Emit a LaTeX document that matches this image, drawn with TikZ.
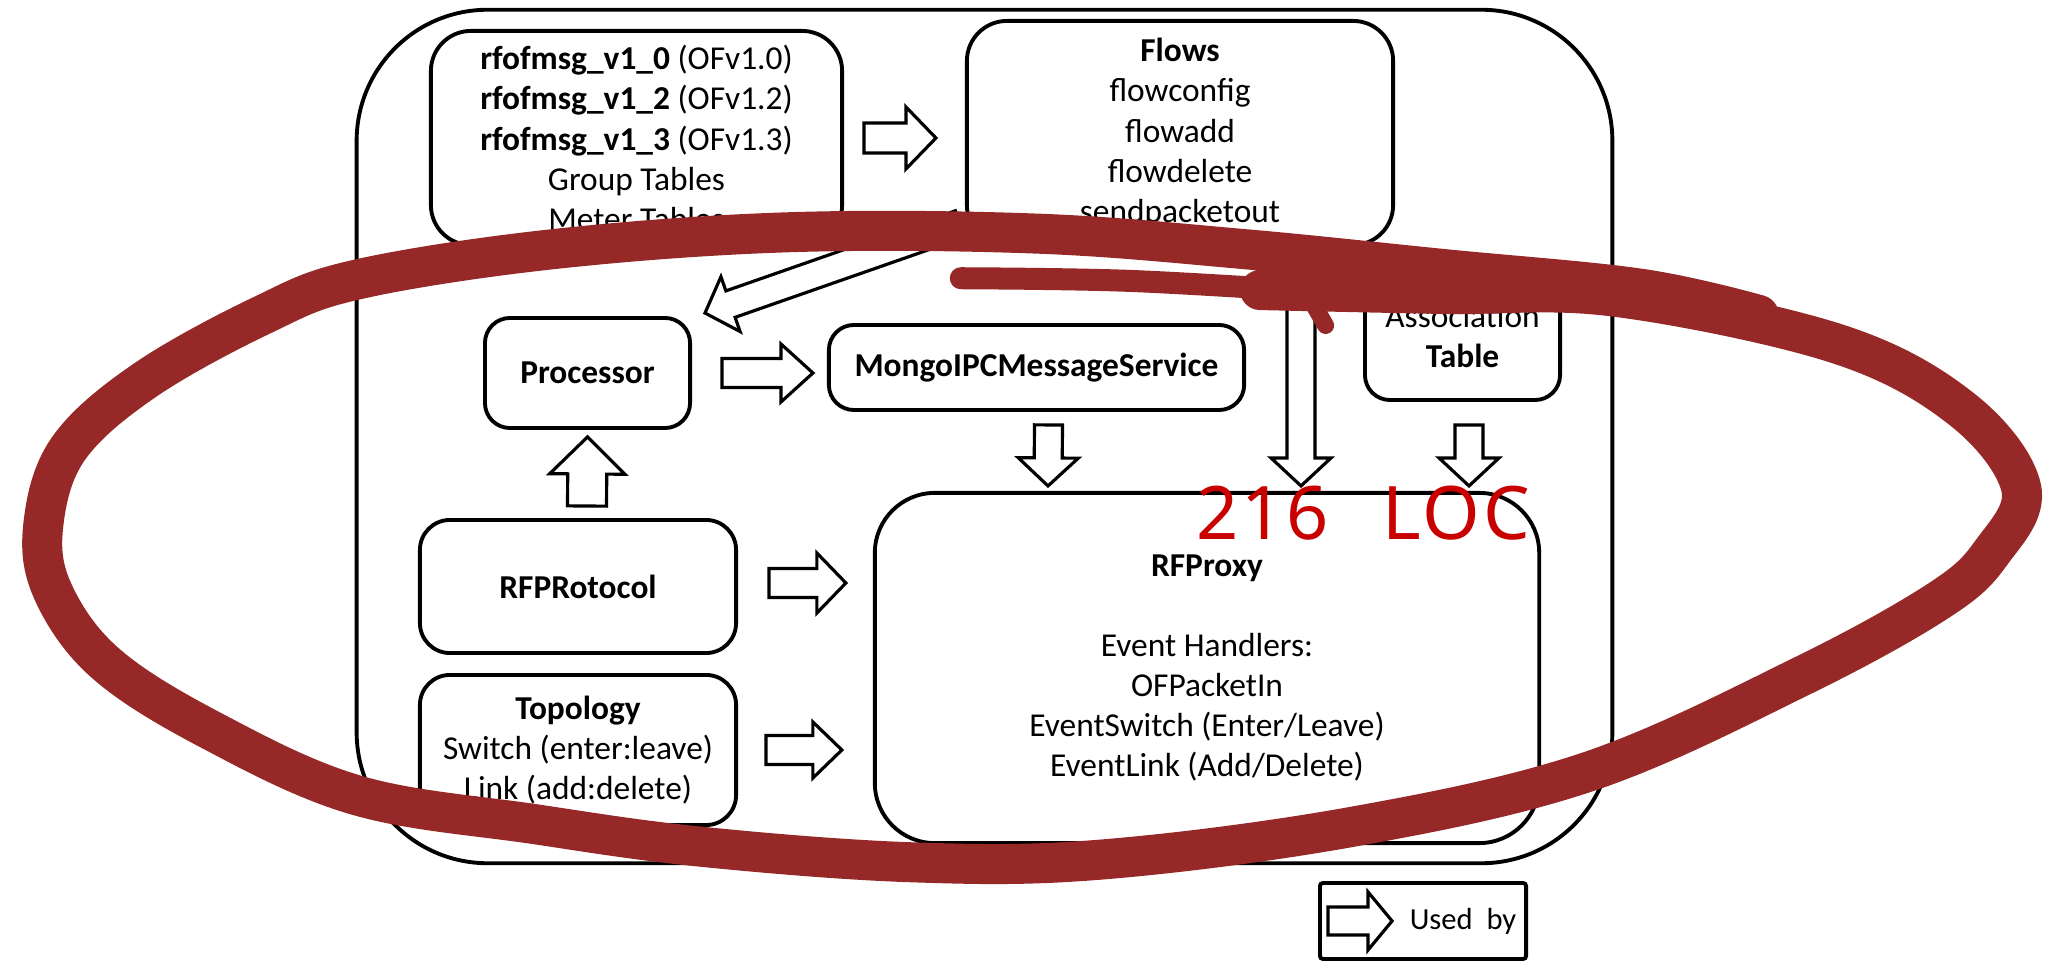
\documentclass[tikz,border=0pt]{standalone}
\usepackage{fontspec}
\setmainfont{Carlito}
\newfontfamily\handfont[LetterSpace=4]{Noto Sans}
\usetikzlibrary{calc}

\definecolor{ink}{RGB}{150,40,40}
\definecolor{penred}{RGB}{200,0,0}

% hollow block arrow from tail #1 to tip #2;
% #3 half shaft width, #4 half head width, #5 head length
\newcommand\fatarrow[5]{%
  \coordinate (fahb) at ($(#2)!#5!(#1)$);
  \draw[fat] ($(#1)!#3!90:(#2)$) -- ($(fahb)!#3!90:(#2)$) -- ($(fahb)!#4!90:(#2)$)
    -- (#2) -- ($(fahb)!#4!-90:(#2)$) -- ($(fahb)!#3!-90:(#2)$)
    -- ($(#1)!#3!-90:(#2)$) -- cycle;}

\tikzset{
  box/.style={draw, line width=1.1pt, rounded corners=#1, align=center,
    inner sep=0pt, font=\fontsize{9.5}{11.4}\selectfont},
  box/.default=0.3cm,
  fat/.style={draw, fill=white, line width=0.9pt, line join=miter},
  loop/.style={draw=ink, line cap=round, line join=round},
}

\begin{document}
\begin{tikzpicture}[x=0.01cm, y=-0.01cm]
\useasboundingbox (0,0) rectangle (2058,962);

% application container
\node[box=1.31cm, minimum width=12.55cm, minimum height=8.53cm] (app) at (984.5,436.5) {};

% component boxes
\node[box=0.4cm, minimum width=4.11cm, minimum height=2.14cm] (rfof) at (636.5,138)
  {\textbf{rfofmsg\_v1\_0} (OFv1.0)\\\textbf{rfofmsg\_v1\_2} (OFv1.2)\\\textbf{rfofmsg\_v1\_3} (OFv1.3)\\Group Tables\\Meter Tables};
\node[box=0.4cm, minimum width=4.26cm, minimum height=2.24cm] (flows) at (1180,133)
  {\textbf{Flows}\\flowconfig\\flowadd\\flowdelete\\sendpacketout};
\node[box=0.25cm, minimum width=1.95cm, minimum height=1.28cm] (assoc) at (1462.5,336)
  {Association\\\textbf{Table}};
\node[box=0.25cm, minimum width=2.05cm, minimum height=1.10cm] (proc) at (587.5,373)
  {\textbf{Processor}};
\node[box=0.25cm, minimum width=4.15cm, minimum height=0.85cm] (mongo) at (1036.5,367.5)
  {\textbf{MongoIPCMessageService}};
\node[box=0.6cm, minimum width=6.64cm, minimum height=3.50cm] (rfproxy) at (1207,668)
  {\textbf{RFProxy}\\[11.4pt]Event Handlers:\\OFPacketIn\\EventSwitch (Enter/Leave)\\EventLink (Add/Delete)};
\node[box=0.3cm, minimum width=3.16cm, minimum height=1.33cm] (rfprot) at (578,586.5)
  {\textbf{RFPRotocol}};
\node[box=0.3cm, minimum width=3.16cm, minimum height=1.50cm] (topo) at (578,750)
  {\textbf{Topology}\\Switch (enter:leave)\\Link (add:delete)};

% legend
\node[box=0.03cm, minimum width=2.06cm, minimum height=0.76cm] (legend) at (1423,921) {};
\node[font=\fontsize{8.7}{10}\selectfont, inner sep=0pt] (usedby) at (1463,921) {Used~~by};

% "used by" connectors
\coordinate (a1) at ($(rfof.east)+(20,0)$);
\coordinate (b1) at ($(flows.west)+(-29,5)$);
\fatarrow{a1}{b1}{0.15cm}{0.31cm}{0.30cm}

\coordinate (a2) at ($(flows.south west)+(-5,-23)$);
\coordinate (b2) at ($(proc.north east)+(13,-3)$);
\fatarrow{a2}{b2}{0.14cm}{0.29cm}{0.27cm}

\coordinate (a3) at ($(proc.east)+(30,0)$);
\coordinate (b3) at ($(mongo.west)+(-14,5.5)$);
\fatarrow{a3}{b3}{0.145cm}{0.29cm}{0.32cm}

\coordinate (a4) at ($(mongo.south)+(12,13)$);
\coordinate (b4) at ($(rfproxy.north)+(-159,-5)$);
\fatarrow{a4}{b4}{0.14cm}{0.30cm}{0.28cm}

\coordinate (a5) at ($(flows.south)+(121,3)$);
\coordinate (b5) at ($(rfproxy.north)+(94,-5)$);
\fatarrow{a5}{b5}{0.14cm}{0.30cm}{0.28cm}

\coordinate (a6) at ($(assoc.south)+(6.5,23)$);
\coordinate (b6) at ($(rfproxy.north)+(262,-5)$);
\fatarrow{a6}{b6}{0.14cm}{0.30cm}{0.28cm}

\coordinate (a7) at ($(rfprot.north)+(9,-12)$);
\coordinate (b7) at ($(proc.south)+(0,7)$);
\fatarrow{a7}{b7}{0.195cm}{0.375cm}{0.37cm}

\coordinate (a8) at ($(rfprot.east)+(31,-3.5)$);
\coordinate (b8) at ($(rfproxy.west)+(-27,-85)$);
\fatarrow{a8}{b8}{0.145cm}{0.30cm}{0.29cm}

\coordinate (a9) at ($(topo.east)+(28,0)$);
\coordinate (b9) at ($(rfproxy.west)+(-31,82)$);
\fatarrow{a9}{b9}{0.145cm}{0.28cm}{0.29cm}

\coordinate (a10) at ($(legend.west)+(10,0)$);
\coordinate (b10) at ($(usedby.west)+(-17,0)$);
\fatarrow{a10}{b10}{0.14cm}{0.29cm}{0.24cm}

% hand-drawn loop over the diagram
\begin{scope}[scale=1.3125]
\draw[loop, line width=0.22cm] plot[smooth, tension=0.6] coordinates
  {(732,212) (860,214) (1000,222)};
\draw[loop, line width=0.40cm] plot[smooth, tension=0.6] coordinates
  {(960,221) (1100,224) (1230,226) (1400,262) (1495,312) (1540,372) (1518,420)
   (1478,457) (1373,515) (1210,588) (1030,630) (838,655) (695,657) (533,645)
   (408,628) (272,606) (160,556) (80,505) (40,450) (33,400) (52,342)
   (110,290) (200,240) (272,213) (420,190)
   (600,177) (790,178) (950,190) (1100,205) (1250,220) (1340,240)};
\draw[loop, line width=0.17cm] (995,222) -- (1010,248);
\end{scope}

\node[text=penred, font=\handfont\fontsize{21}{25}\selectfont, inner sep=0pt]
  (loc) at (1363,513) {216~\hspace{9pt}LOC};
\end{tikzpicture}
\end{document}
